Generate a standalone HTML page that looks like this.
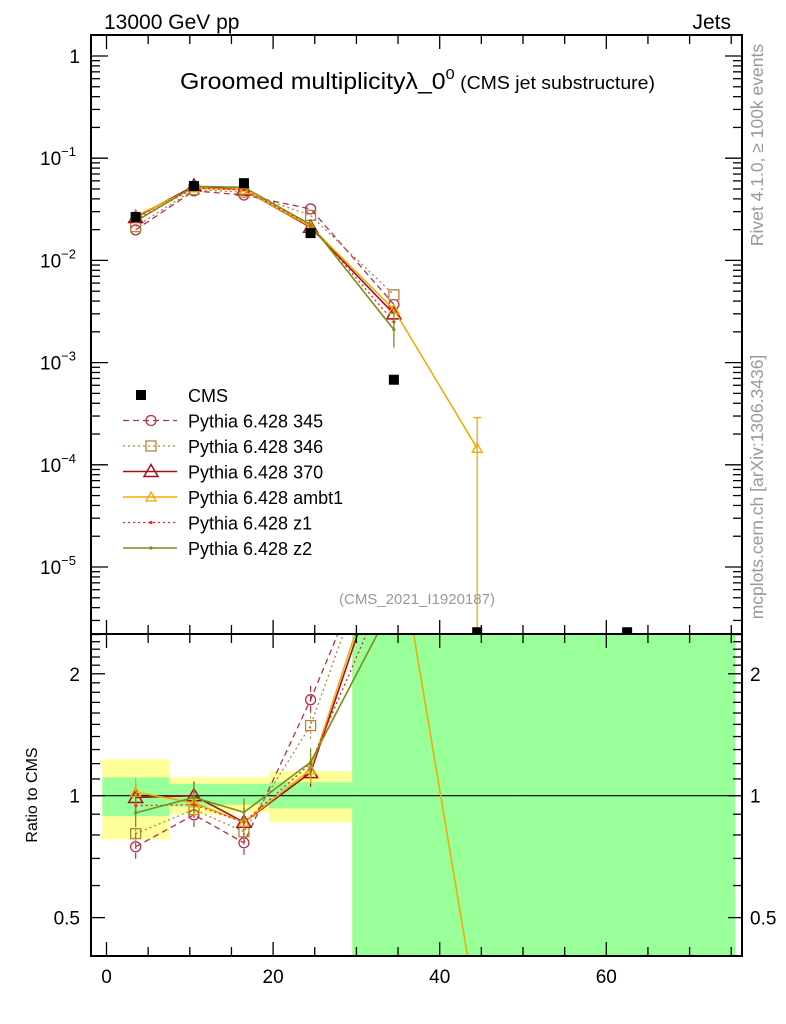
<!DOCTYPE html>
<html><head><meta charset="utf-8">
<style>
html,body{margin:0;padding:0;background:#fff;width:786px;height:1024px;overflow:hidden;font-family:"Liberation Sans",sans-serif}
svg{display:block}
svg text{font-family:"Liberation Sans",sans-serif}
</style></head>
<body>
<svg id="chart" width="786" height="1024" viewBox="0 0 786 1024" xmlns="http://www.w3.org/2000/svg">
<defs>
<clipPath id="clipMain"><rect x="91" y="35" width="651" height="599"/></clipPath>
<clipPath id="clipRatio"><rect x="91" y="634" width="651" height="322"/></clipPath>
</defs>
<g id="ratioBands" clip-path="url(#clipRatio)"></g>
<g id="ratioSeries" clip-path="url(#clipRatio)"></g>
<g id="mainSeries" clip-path="url(#clipMain)"></g>
<g id="axes"></g>
<text x="104" y="29" font-size="21">13000 GeV pp</text>
<text x="731" y="29" font-size="21" text-anchor="end">Jets</text>
<text x="180" y="89" font-size="23" textLength="475" lengthAdjust="spacingAndGlyphs">Groomed multiplicityλ_0<tspan font-size="15" dy="-10">0</tspan><tspan font-size="18" dy="10"> (CMS jet substructure)</tspan></text>
<text x="417" y="604" font-size="15" fill="#999" text-anchor="middle">(CMS_2021_I1920187)</text>
<text transform="translate(763,145) rotate(-90)" font-size="17.5" fill="#999" text-anchor="middle">Rivet 4.1.0, ≥ 100k events</text>
<text transform="translate(763,487) rotate(-90)" font-size="17.5" fill="#999" text-anchor="middle">mcplots.cern.ch [arXiv:1306.3436]</text>
<text transform="translate(37,795) rotate(-90)" font-size="16" text-anchor="middle">Ratio to CMS</text>
<g id="legend"></g>
</svg>
<script>
// ---- data ----
const binCenters = [3.5, 10.5, 16.5, 24.5, 34.5, 44.5, 62.5];
const binEdges = [-0.5, 7.5, 13.5, 19.5, 29.5, 39.5, 49.5, 75.5];
const cmsValues = [0.0266, 0.0534, 0.057, 0.0185, 6.8e-4, 2.3e-6, 2.3e-6];
const mc345 = [0.0199, 0.0479, 0.0436, 0.0319, 3.7e-3];
const mc346 = [0.0214, 0.0493, 0.0465, 0.0276, 4.6e-3];
const mc370 = [0.0263, 0.0534, 0.0490, 0.0211, 3.0e-3];
const mcAmbt1 = [0.0271, 0.0513, 0.0490, 0.0215, 3.3e-3, 1.45e-4];
const mcZ1 = [0.0251, 0.0507, 0.0490, 0.0222, 2.5e-3];
const mcZ2 = [0.0241, 0.0529, 0.0519, 0.0224, 2.1e-3];
const ratio345 = [0.748, 0.897, 0.765, 1.726, 5.4];
const ratio346 = [0.806, 0.924, 0.815, 1.49, 5.6];
const ratio370 = [0.99, 1.0, 0.86, 1.14, 4.6];
const ratioAmbt1 = [1.02, 0.96, 0.86, 1.16, 4.9, 0.29];
const ratioZ1 = [0.945, 0.95, 0.86, 1.2, 3.6];
const ratioZ2 = [0.907, 0.99, 0.91, 1.21, 3.0];
const yellowLo = [0.78, 0.90, 0.91, 0.86, 0.01, 0.01, 0.01];
const yellowHi = [1.23, 1.11, 1.11, 1.15, 2.4, 9, 9];
const greenLo = [0.89, 0.94, 0.95, 0.93, 0.01, 0.01, 0.01];
const greenHi = [1.11, 1.07, 1.07, 1.08, 9, 9, 9];
const mainTickVals = [1, 0.1, 0.01, 0.001, 1e-4, 1e-5];
const mainTickLabels = ["1", "10", "10", "10", "10", "10"];
const mainTickExp = ["", "−1", "−2", "−3", "−4", "−5"];
const ratioTickVals = [2, 1, 0.5];
const ratioTickLabels = ["2", "1", "0.5"];
const xTickVals = [0, 20, 40, 60];
const xTickLabels = ["0", "20", "40", "60"];

// ---- scales ----
const X0 = 106.5, XS = 8.33;
function sx(v){ return X0 + v*XS; }
function sy(v){ return 56 - Math.log10(v)*102.2; }
function sr(v){ return 795.7 - Math.log10(v)*405; }
const NS = "http://www.w3.org/2000/svg";
function mk(tag, attrs, parent){ const e=document.createElementNS(NS,tag); for(const k in attrs) e.setAttribute(k,attrs[k]); parent.appendChild(e); return e; }

const series = [
 {name:"Pythia 6.428 345", key:"345", color:"#b5304a", dash:"6,4", marker:"circle", main:mc345, ratio:ratio345, w:1.3},
 {name:"Pythia 6.428 346", key:"346", color:"#b0843c", dash:"2,3", marker:"square", main:mc346, ratio:ratio346, w:1.3},
 {name:"Pythia 6.428 370", key:"370", color:"#a01020", dash:"", marker:"triangle", main:mc370, ratio:ratio370, w:1.6},
 {name:"Pythia 6.428 ambt1", key:"ambt1", color:"#f5a800", dash:"", marker:"triangleSmall", main:mcAmbt1, ratio:ratioAmbt1, w:1.5},
 {name:"Pythia 6.428 z1", key:"z1", color:"#ee2222", dash:"2,3", marker:"dot", main:mcZ1, ratio:ratioZ1, w:1.3},
 {name:"Pythia 6.428 z2", key:"z2", color:"#7f8c1a", dash:"", marker:"dot", main:mcZ2, ratio:ratioZ2, w:1.6}
];

function marker(g, type, x, y, c){
  let e;
  if(type==="circle"){ e=mk("circle",{cx:x,cy:y,r:5,fill:"none",stroke:c,"stroke-width":1.3},g); }
  else if(type==="square"){ e=mk("rect",{x:x-5,y:y-5,width:10,height:10,fill:"none",stroke:c,"stroke-width":1.3},g); }
  else if(type==="triangle"){ e=mk("polygon",{points:`${x},${y-7} ${x-7},${y+5} ${x+7},${y+5}`,fill:"none",stroke:c,"stroke-width":1.5},g); }
  else if(type==="triangleSmall"){ e=mk("polygon",{points:`${x},${y-5} ${x-5},${y+4} ${x+5},${y+4}`,fill:"none",stroke:c,"stroke-width":1.3},g); }
  else { e=mk("circle",{cx:x,cy:y,r:1.6,fill:c},g); }
  return e;
}

// ratio bands
const rb = document.getElementById("ratioBands");
for(let i=0;i<binCenters.length;i++){
  const x1=sx(binEdges[i]), x2=sx(binEdges[i+1]);
  const y = mk("rect",{x:x1,y:sr(yellowHi[i]),width:x2-x1,height:sr(yellowLo[i])-sr(yellowHi[i]),fill:"#ffff99"},rb);
  
  
}
for(let i=0;i<binCenters.length;i++){
  const x1=sx(binEdges[i]), x2=sx(binEdges[i+1]);
  const gr = mk("rect",{x:x1,y:sr(greenHi[i]),width:x2-x1,height:sr(greenLo[i])-sr(greenHi[i]),fill:"#99ff99"},rb);
  
  
}
const one = mk("line",{x1:91,x2:742,y1:sr(1),y2:sr(1),stroke:"#000","stroke-width":1.2},rb);



// series
const ms = document.getElementById("mainSeries");
const rs = document.getElementById("ratioSeries");
series.forEach(s=>{
  const gm = mk("g",{},ms);
  
  
  const pts = s.main.map((v,i)=>`${sx(binCenters[i])},${sy(v)}`).join(" ");
  mk("polyline",{points:pts,fill:"none",stroke:s.color,"stroke-width":s.w,"stroke-dasharray":s.dash},gm);
  s.main.forEach((v,i)=>{
    const m = marker(gm,s.marker,sx(binCenters[i]),sy(v),s.color);
    
    
  });
  const gr = mk("g",{},rs);
  
  
  const rp = s.ratio.map((v,i)=>`${sx(binCenters[i])},${sr(v)}`).join(" ");
  mk("polyline",{points:rp,fill:"none",stroke:s.color,"stroke-width":s.w,"stroke-dasharray":s.dash},gr);
  s.ratio.forEach((v,i)=>{
    const x=sx(binCenters[i]), y=sr(v);
    mk("line",{x1:x,x2:x,y1:y-14,y2:y+14,stroke:s.color,"stroke-width":1.2,"stroke-dasharray":s.dash},gr);
    const m = marker(gr,s.marker,x,y,s.color);
    
    
  });
});
// ambt1 large error bar at 44.5
const eb = mk("line",{x1:sx(binCenters[5]),x2:sx(binCenters[5]),y1:sy(2.9e-4),y2:634,stroke:"#f5a800","stroke-width":1.3},ms);


mk("line",{x1:sx(binCenters[5])-4,x2:sx(binCenters[5])+4,y1:sy(2.9e-4),y2:sy(2.9e-4),stroke:"#f5a800","stroke-width":1.3},ms);
// z2 error bar at 34.5
mk("line",{x1:sx(34.5),x2:sx(34.5),y1:sy(3.2e-3),y2:sy(1.4e-3),stroke:"#7f8c1a","stroke-width":1.3},ms);
// CMS points
const gc = mk("g",{},ms);


cmsValues.forEach((v,i)=>{
  const x=sx(binCenters[i]), y=Math.min(sy(v),633);
  const r = mk("rect",{x:x-5,y:y-5,width:10,height:10,fill:"#000"},gc);
  
  
});

// axes
const ax = document.getElementById("axes");
const frame1 = mk("rect",{x:91,y:35,width:651,height:599,fill:"none",stroke:"#000","stroke-width":2},ax);


const frame2 = mk("rect",{x:91,y:634,width:651,height:322,fill:"none",stroke:"#000","stroke-width":2},ax);


// x ticks
for(let v=0; v<=75; v+=5){
  const x=sx(v), big = v%20===0, L = big?14:9;
  mk("line",{x1:x,x2:x,y1:35,y2:35+L,stroke:"#000","stroke-width":1.3},ax);
  mk("line",{x1:x,x2:x,y1:634,y2:634-L,stroke:"#000","stroke-width":1.3},ax);
  mk("line",{x1:x,x2:x,y1:634,y2:634+L,stroke:"#000","stroke-width":1.3},ax);
  mk("line",{x1:x,x2:x,y1:956,y2:956-L,stroke:"#000","stroke-width":1.3},ax);
}
xTickVals.forEach((v,i)=>{
  const t = mk("text",{x:sx(v),y:983,"font-size":19,"text-anchor":"middle"},ax);
  t.textContent = xTickLabels[i];
  
  
});
// main y ticks
for(let d=-6; d<=0; d++){
  for(let m=1;m<=9;m++){
    const v=m*Math.pow(10,d), y=sy(v);
    if(y<35||y>634) continue;
    const L = m===1?17:9;
    mk("line",{x1:91,x2:91+L,y1:y,y2:y,stroke:"#000","stroke-width":1.3},ax);
    mk("line",{x1:742,x2:742-L,y1:y,y2:y,stroke:"#000","stroke-width":1.3},ax);
  }
}
mainTickVals.forEach((v,i)=>{
  const t = mk("text",{x:mainTickExp[i]?58:80,y:sy(v)+7,"font-size":19,"text-anchor":mainTickExp[i]?"middle":"end"},ax);
  t.textContent = mainTickLabels[i];
  if(mainTickExp[i]){ const ts=mk("tspan",{"font-size":13,dy:-9},t); ts.textContent=mainTickExp[i]; }
  
  
});
// ratio y ticks
const rt=[0.4,0.5,0.6,0.7,0.8,0.9,1,1.1,1.2,1.3,1.4,1.5,1.6,1.7,1.8,1.9,2,2.1,2.2,2.3,2.4,2.5];
rt.forEach(v=>{
  const y=sr(v); if(y<634||y>956) return;
  const big = (v===0.5||v===1||v===2), L=big?14:9;
  mk("line",{x1:91,x2:91+L,y1:y,y2:y,stroke:"#000","stroke-width":1.3},ax);
  mk("line",{x1:742,x2:742-L,y1:y,y2:y,stroke:"#000","stroke-width":1.3},ax);
});
ratioTickVals.forEach((v,i)=>{
  const t = mk("text",{x:80,y:sr(v)+7,"font-size":19,"text-anchor":"end"},ax);
  t.textContent = ratioTickLabels[i];
  
  
  const t2 = mk("text",{x:750,y:sr(v)+7,"font-size":19},ax);
  t2.textContent = ratioTickLabels[i];
  
  
});

// legend
const lg = document.getElementById("legend");
const ly0 = 395, ldy = 25.5;
const e0 = mk("g",{},lg);


mk("rect",{x:136,y:ly0-5,width:10,height:10,fill:"#000"},e0);
const t0 = mk("text",{x:188,y:ly0+7,"font-size":18},e0); t0.textContent="CMS";
series.forEach((s,i)=>{
  const y = ly0 + ldy*(i+1);
  const g = mk("g",{},lg);
  
  
  mk("line",{x1:123,x2:177,y1:y,y2:y,stroke:s.color,"stroke-width":s.w,"stroke-dasharray":s.dash},g);
  marker(g,s.marker,151,y,s.color);
  const t = mk("text",{x:188,y:y+7,"font-size":18},g); t.textContent=s.name;
});
</script>
</body></html>
